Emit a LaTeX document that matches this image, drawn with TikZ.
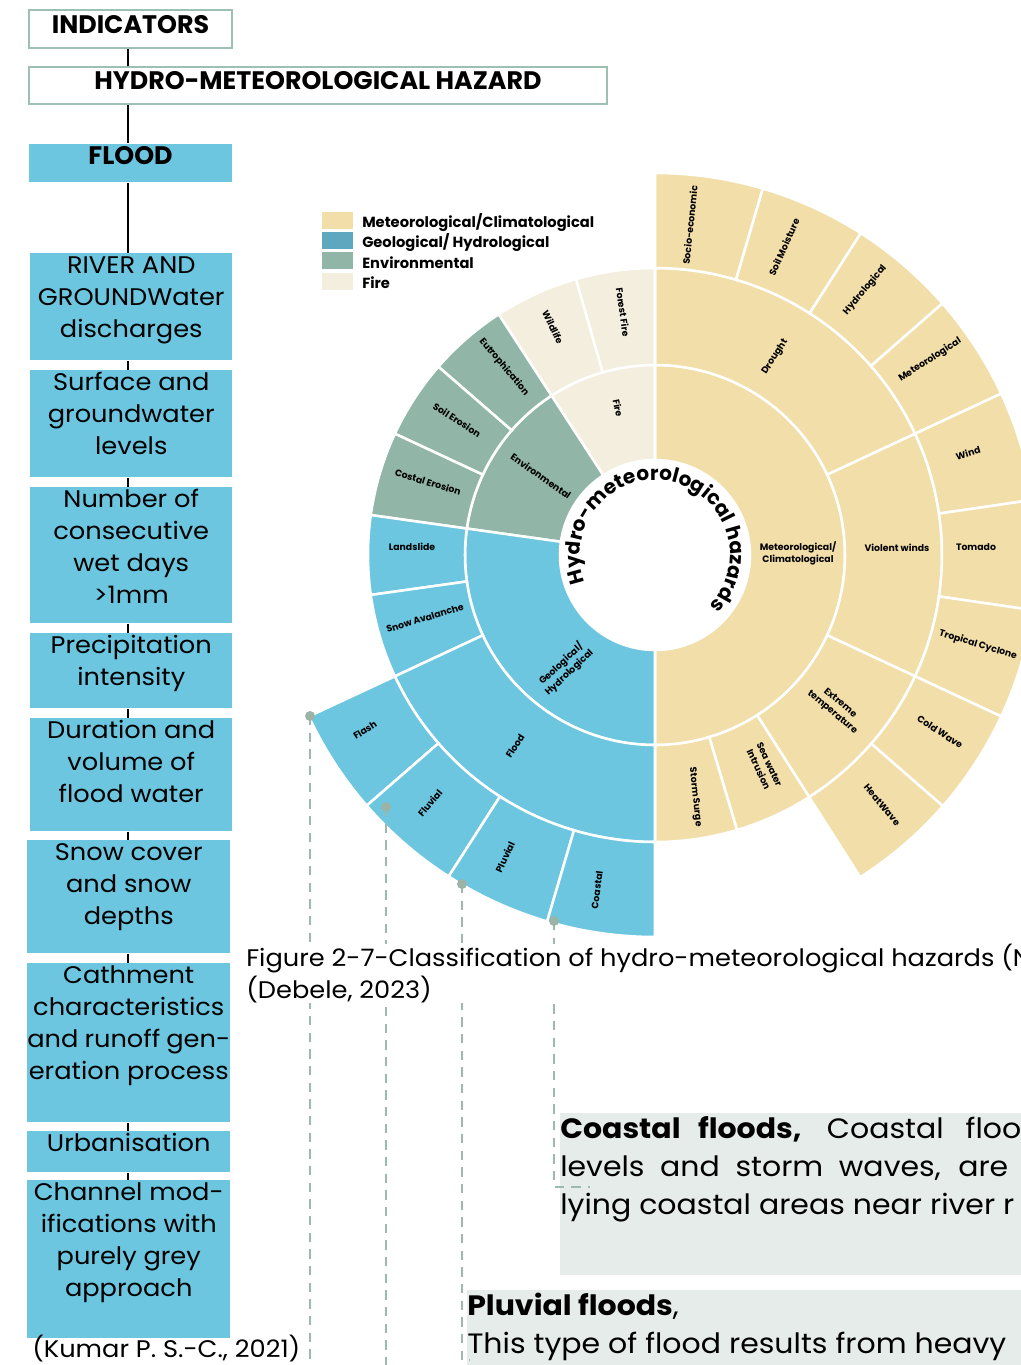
\documentclass[tikz,border=0pt]{standalone}
\usepackage{fontspec}
\setmainfont{Poppins}
\newfontfamily\bodyfont{Poppins}[FakeStretch=1.07]
\usetikzlibrary{decorations.text}

\definecolor{fblue}{HTML}{6CC6E0}
\definecolor{metc}{HTML}{F2DEA9}
\definecolor{envc}{HTML}{91B6A7}
\definecolor{firec}{HTML}{F3EEDD}
\definecolor{geolg}{HTML}{5EA8BF}
\definecolor{edgec}{HTML}{9CC0B2}
\definecolor{dashc}{HTML}{9DB8AC}
\definecolor{dotc}{HTML}{9CB3A8}
\definecolor{notec}{HTML}{E6ECE9}

% text set at the top of a fixed-size box
\newcommand\topbox[4]{\parbox[c][#1][t]{#2}{\centering\rule{0pt}{#3}#4\par}}
% one ring sector: colour, start angle, end angle, inner radius, outer radius
\newcommand\hsector[5]{\filldraw[sepline, fill=#1] (#2:#4) arc[start angle=#2, end angle=#3, radius=#4] -- (#3:#5) arc[start angle=#3, end angle=#2, radius=#5] -- cycle;}

\begin{document}
\begin{tikzpicture}[x=0.75pt,y=-0.75pt,
  hdr/.style={draw=edgec, line width=1.5pt, fill=white, inner sep=0pt, anchor=north west, font=\fontsize{19}{22}\selectfont\bfseries},
  indbox/.style={fill=fblue, inner sep=0pt, anchor=north west, font={\bodyfont\fontsize{18}{24}\selectfont}},
  conn/.style={line width=1.5pt, black},
  sepline/.style={draw=white, line width=1.9pt},
  lab/.style={font=\fontsize{7}{9}\selectfont\bfseries, align=center, inner sep=0pt},
  legsq/.style={inner sep=0pt, minimum width=23.25pt, minimum height=12.75pt, anchor=north west},
  legtx/.style={font=\fontsize{11}{12}\selectfont\bfseries, anchor=base west, inner sep=0pt},
  dsh/.style={dashc, line width=1.5pt, dash pattern=on 7pt off 5.5pt},
  dotn/.style={circle, fill=dotc, inner sep=0pt, minimum size=7.5pt},
  note/.style={fill=notec, inner sep=0pt, anchor=north west, font={\bodyfont\fontsize{21}{28.5}\selectfont}},
  plain/.style={inner sep=0pt, font={\bodyfont\fontsize{18}{24}\selectfont}}]

\useasboundingbox (0,0) rectangle (1021,1365);
\clip (0,0) rectangle (1021,1365);

% ---------------- indicator column ----------------
\node[hdr] (ind) at (28,9) {\topbox{28.5pt}{152.25pt}{17.25pt}{INDICATORS}};
\node[hdr] (hmh) at (28,66) {\topbox{27.75pt}{433.5pt}{16.5pt}{HYDRO-METEOROLOGICAL HAZARD}};
\node[hdr, draw=none, fill=fblue] (flood) at (28,143) {\topbox{28.5pt}{152.25pt}{15pt}{FLOOD}};

\node[indbox] (b1) at (30,253) {\topbox{80.25pt}{151.5pt}{15.4pt}{RIVER AND\\GROUNDWater\\discharges}};
\node[indbox] (b2) at (30,370) {\topbox{80.25pt}{151.5pt}{15.4pt}{Surface and\\groundwater\\levels}};
\node[indbox] (b3) at (30,487) {\topbox{102pt}{151.5pt}{15.4pt}{Number of\\consecutive\\wet days\\>1mm}};
\node[indbox] (b4) at (30,633) {\topbox{56.25pt}{151.5pt}{15.4pt}{Precipitation\\intensity}};
\node[indbox] (b5) at (30,718) {\topbox{84.75pt}{151.5pt}{15.4pt}{Duration and\\volume of\\flood water}};
\node[indbox] (b6) at (27,840) {\topbox{84.75pt}{152.25pt}{15.4pt}{Snow cover\\and snow\\depths}};
\node[indbox] (b7) at (27,963) {\topbox{119.25pt}{152.25pt}{15.4pt}{Cathment\\characteristics\\and runoff gen-\\eration process}};
\node[indbox] (b8) at (27,1131) {\topbox{30.75pt}{152.25pt}{15.4pt}{Urbanisation}};
\node[indbox] (b9) at (27,1180) {\topbox{118.5pt}{152.25pt}{15.4pt}{Channel mod-\\ifications with\\purely grey\\approach}};

\coordinate (spine) at (128,0);
\foreach \a/\b in {ind/hmh, hmh/flood, flood/b1, b1/b2, b2/b3, b3/b4, b4/b5, b5/b6, b6/b7, b7/b8, b8/b9}
  \draw[conn] (\a.south -| spine) -- (\b.north -| spine);

\node[plain, anchor=base west] (kumar) at (32,1357) {(Kumar P. S.-C., 2021)};

% ---------------- legend ----------------
\node[legsq, fill=metc] (lg1) at (322,212) {};
\node[legsq, fill=geolg] (lg2) at (322,232) {};
\node[legsq, fill=envc] (lg3) at (322,252) {};
\node[legsq, fill=firec] (lg4) at (322,273) {};
\node[legtx] (lt1) at (362,227) {Meteorological/Climatological};
\node[legtx] (lt2) at (362,247) {Geological/ Hydrological};
\node[legtx] (lt3) at (362,268) {Environmental};
\node[legtx] (lt4) at (362,288) {Fire};

% ---------------- sunburst ----------------
\begin{scope}[shift={(655,555)}, y=0.75pt]
  % inner ring
  \hsector{metc}{-90}{90}{95}{190}
  \hsector{firec}{90}{123}{95}{190}
  \hsector{envc}{123}{172}{95}{190}
  \hsector{fblue}{172}{270}{95}{190}
  % middle ring
  \hsector{metc}{25}{90}{190}{287}
  \hsector{metc}{-25}{25}{190}{287}
  \hsector{metc}{-57.5}{-25}{190}{287}
  \hsector{metc}{-73.4}{-57.5}{190}{287}
  \hsector{metc}{-90}{-73.4}{190}{287}
  \hsector{firec}{90}{106}{190}{287}
  \hsector{firec}{106}{123}{190}{287}
  \hsector{envc}{123}{139}{190}{287}
  \hsector{envc}{139}{155}{190}{287}
  \hsector{envc}{155}{172}{190}{287}
  \hsector{fblue}{172}{188}{190}{287}
  \hsector{fblue}{188}{205}{190}{287}
  \hsector{fblue}{205}{270}{190}{287}
  % outer ring
  \hsector{metc}{73.6}{90}{287}{382}
  \hsector{metc}{57.4}{73.6}{287}{382}
  \hsector{metc}{41.2}{57.4}{287}{382}
  \hsector{metc}{25}{41.2}{287}{382}
  \hsector{metc}{8.3}{25}{287}{382}
  \hsector{metc}{-8.3}{8.3}{287}{382}
  \hsector{metc}{-25}{-8.3}{287}{382}
  \hsector{metc}{-41.1}{-25}{287}{382}
  \hsector{metc}{-57.5}{-41.1}{287}{382}
  \hsector{fblue}{205}{221}{287}{382}
  \hsector{fblue}{221}{237.3}{287}{382}
  \hsector{fblue}{237.3}{253.6}{287}{382}
  \hsector{fblue}{253.6}{270}{287}{382}
  % title round the hole
  \path[decorate, decoration={text along path,
      text={|\fontsize{15}{15}\selectfont\bfseries|Hydro-meteorological hazards},
      text align=center}]
    (250:75) arc[start angle=250, end angle=-92, radius=75];
\end{scope}

% sector labels
\node[lab] (lmet) at (798,553) {Meteorological/\\Climatological};
\node[lab, rotate=43] (lgeo) at (565,668) {Geological/\\Hydrological};
\node[lab, rotate=-35] (lenv) at (541,476) {Environmental};
\node[lab, rotate=-78] (lfire) at (618,408) {Fire};

\node[lab, rotate=57] (ldro) at (775,357) {Drought};
\node[lab] (lvw) at (897,548) {Violent winds};
\node[lab, rotate=-40] (lext) at (836,708) {Extreme\\temperature};
\node[lab, rotate=-65] (lsea) at (764,767) {Sea water\\Intrusion};
\node[lab, rotate=-84] (lsto) at (695,797) {Storm Surge};
\node[lab, rotate=57] (lflo) at (515,746) {Flood};
\node[lab, rotate=17] (lsno) at (425,618) {Snow Avalanche};
\node[lab] (llan) at (412,547) {Landslide};
\node[lab, rotate=-17] (lcos) at (428,482) {Costal Erosion};
\node[lab, rotate=-33] (lsoi) at (457,420) {Soil Erosion};
\node[lab, rotate=-50] (leut) at (504,367) {Eutrophication};
\node[lab, rotate=-65] (lwil) at (553,327) {Wildlife};
\node[lab, rotate=-82] (lfor) at (623,312) {Forest Fire};

\node[lab, rotate=84] (lsoc) at (690,225) {Socio-economic};
\node[lab, rotate=66] (lsm) at (784,247) {Soil Moisture};
\node[lab, rotate=50] (lhyd) at (865,290) {Hydrological};
\node[lab, rotate=33] (lmeo) at (930,360) {Meteorological};
\node[lab, rotate=17] (lwin) at (968,453) {Wind};
\node[lab] (ltor) at (976,547) {Tomado};
\node[lab, rotate=-17] (ltro) at (978,645) {Tropical Cyclone};
\node[lab, rotate=-33] (lcol) at (940,732) {Cold Wave};
\node[lab, rotate=-50] (lhea) at (882,805) {HeatWave};
\node[lab, rotate=82] (lcoa) at (597,890) {Coastal};
\node[lab, rotate=65] (lplu) at (505,857) {Pluvial};
\node[lab, rotate=50] (lflu) at (430,803) {Fluvial};
\node[lab, rotate=33] (lfla) at (365,730) {Flash};

% ---------------- notes ----------------
\node[note] (ncoast) at (560,1113) {\parbox[c][121.5pt][t]{360pt}{\rule{0pt}{18.75pt}\makebox[345.75pt][s]{\textbf{Coastal floods,} Coastal floo}\\\makebox[336pt][s]{levels and storm waves, are}\\lying coastal areas near river r}};
\node[note] (npluv) at (467,1290) {\parbox[c][60pt][t]{420pt}{\rule{0pt}{18.75pt}\textbf{Pluvial floods},\\This type of flood results from heavy}};

% ---------------- leader lines ----------------
\coordinate (d1) at (310,716);
\coordinate (d2) at (386,807);
\coordinate (d3) at (462,884);
\coordinate (d4) at (554,921);
\coordinate (e1) at (310,1362);
\coordinate (e2) at (386,1370);
\coordinate (k3) at (462,1360);
\coordinate (e3) at (470,1360);
\coordinate (k4) at (554,1187);
\coordinate (e4) at (590,1187);
\draw[dsh] (d1) -- (e1);
\draw[dsh] (d2) -- (e2);
\draw[dsh] (d3) -- (k3) -- (e3);
\draw[dsh] (d4) -- (k4) -- (e4);

% caption
\node[plain, fill=white, anchor=north west] (cap) at (246,944) {\parbox[c][44.25pt][t]{620pt}{\raggedright\rule{0pt}{14.25pt}Figure 2-7-Classification of hydro-meteorological hazards (N\\(Debele, 2023)}};

\node[dotn] (p1) at (d1) {};
\node[dotn] (p2) at (d2) {};
\node[dotn] (p3) at (d3) {};
\node[dotn] (p4) at (d4) {};
\end{tikzpicture}
\end{document}
